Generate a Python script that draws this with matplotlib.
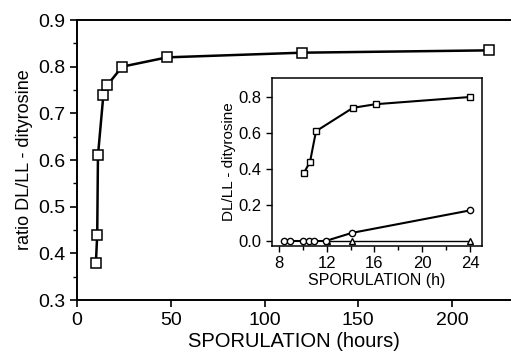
import matplotlib
matplotlib.use("Agg")
import matplotlib.pyplot as plt
from matplotlib.ticker import MultipleLocator

plt.rcParams['font.family'] = ['Liberation Sans', 'DejaVu Sans']

# main panel: DL/LL ratio vs sporulation time (hours)
main_hours = [10, 10.7, 11.1, 14, 16, 24, 48, 120, 220]
main_ratio = [0.38, 0.44, 0.61, 0.74, 0.76, 0.80, 0.82, 0.83, 0.835]

# inset: three series vs sporulation (h)
sq_h = [10.1, 10.6, 11.1, 14.2, 16.1, 24]
sq_v = [0.38, 0.44, 0.61, 0.74, 0.76, 0.80]
circ_h = [8.4, 8.9, 10.0, 10.5, 10.9, 11.9, 14.1, 24]
circ_v = [0, 0, 0, 0, 0, 0, 0.045, 0.17]
tri_h = [12, 14.1, 24]
tri_v = [0, 0, 0]

fig = plt.figure(figsize=(5.11, 3.51), dpi=100)
ax = fig.add_axes([0.151, 0.145, 0.849, 0.798])
ax.plot(main_hours, main_ratio, color='black', lw=1.8, marker='s', ms=6.5,
        mfc='white', mec='black', mew=1.1)
ax.set_xlim(0, 231.5)
ax.set_ylim(0.3, 0.9)
ax.xaxis.set_major_locator(MultipleLocator(50))
ax.yaxis.set_major_locator(MultipleLocator(0.1))
ax.yaxis.set_minor_locator(MultipleLocator(0.05))
ax.spines['right'].set_visible(False)
for s in ['top', 'left', 'bottom']:
    ax.spines[s].set_linewidth(1.4)
ax.tick_params(axis='both', which='major', labelsize=14, width=1.2, length=5)
ax.tick_params(axis='y', which='minor', length=3, width=1)
ax.set_yticklabels(['%.1f' % v for v in ax.get_yticks()])
ax.set_xlabel('SPORULATION (hours)', fontsize=14.5, labelpad=2)
ax.set_ylabel('ratio DL/LL - dityrosine', fontsize=13, labelpad=4)

ins = fig.add_axes([0.532, 0.299, 0.411, 0.479])
ins.plot(tri_h, tri_v, color='black', lw=1.0, marker='^', ms=4,
         mfc='white', mec='black', mew=1)
ins.plot(circ_h, circ_v, color='black', lw=1.5, marker='o', ms=4.5,
         mfc='white', mec='black', mew=1)
ins.plot(sq_h, sq_v, color='black', lw=1.5, marker='s', ms=4.8,
         mfc='white', mec='black', mew=1)
ins.set_xlim(7.4, 25.0)
ins.set_ylim(-0.028, 0.906)
ins.xaxis.set_major_locator(MultipleLocator(4))
ins.xaxis.set_minor_locator(MultipleLocator(2))
ins.yaxis.set_major_locator(MultipleLocator(0.2))
ins.tick_params(axis='both', which='major', labelsize=12, width=1, length=4)
ins.tick_params(axis='x', which='minor', length=3, width=1)
ins.set_yticklabels(['%.1f' % v for v in ins.get_yticks()])
ins.set_xlabel('SPORULATION (h)', fontsize=11.5, labelpad=1)
ins.set_ylabel('DL/LL - dityrosine', fontsize=11, labelpad=2)
for s in ins.spines.values():
    s.set_linewidth(1.1)

fig.savefig('out.png', dpi=100)
